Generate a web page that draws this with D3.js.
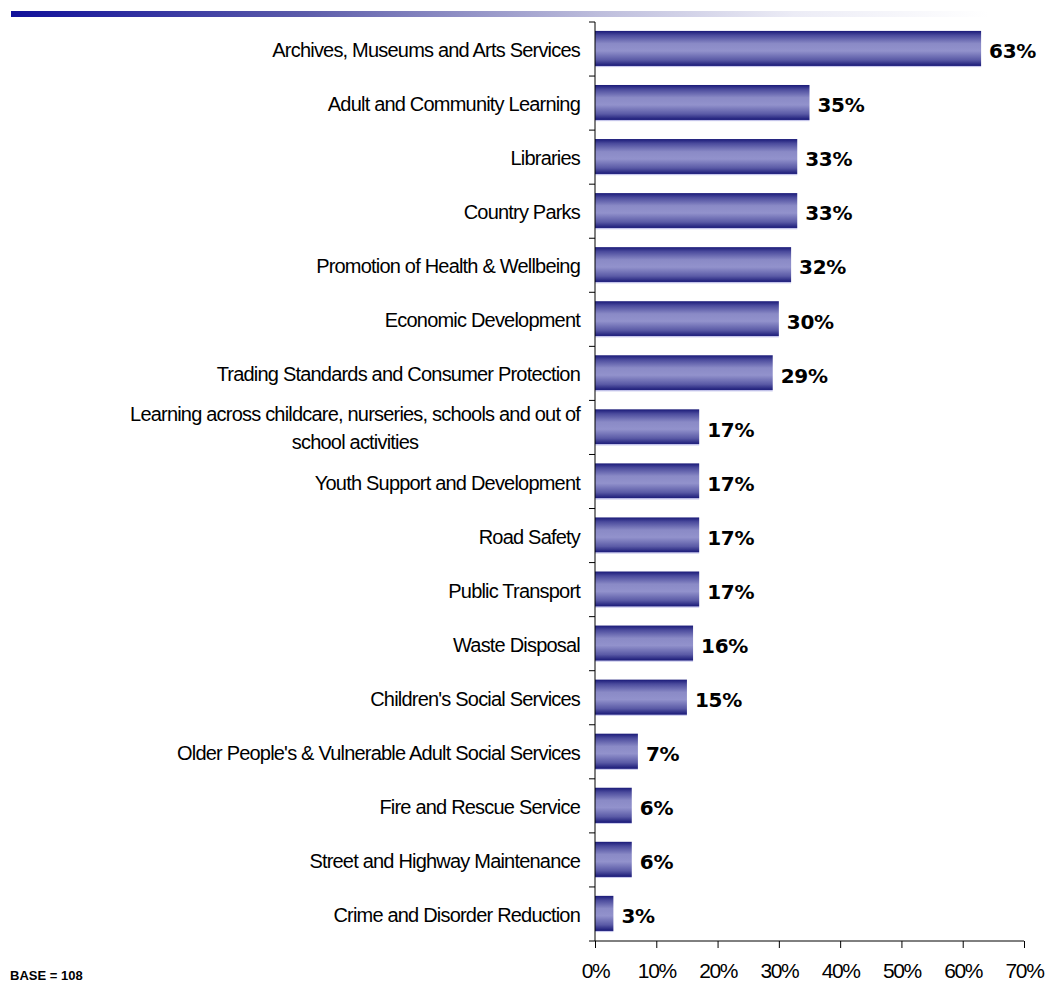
<!DOCTYPE html>
<html>
<head>
<meta charset="utf-8">
<script src="https://cdn.jsdelivr.net/npm/d3@7"></script>
<style>
  body { margin: 0; background: #fff; }
  svg { display: block; }
  .cat { font-family: "Liberation Sans", Arial, sans-serif; font-size: 20px; letter-spacing: -0.8px; fill: #000; }
  .val { font-family: "DejaVu Sans", Verdana, sans-serif; font-weight: bold; font-size: 20px; fill: #000; letter-spacing: -0.3px; }
  .tick-lbl { font-family: "Liberation Sans", Arial, sans-serif; font-size: 21px; letter-spacing: -1.4px; fill: #000; }
  .base { font-family: "Liberation Sans", Arial, sans-serif; font-weight: bold; font-size: 13px; fill: #000; }
</style>
</head>
<body>
<svg id="chart" width="1049" height="984"></svg>
<script>
// Services and the share of respondents selecting each
const categories = [
  "Archives, Museums and Arts Services",
  "Adult and Community Learning",
  "Libraries",
  "Country Parks",
  "Promotion of Health & Wellbeing",
  "Economic Development",
  "Trading Standards and Consumer Protection",
  "Learning across childcare, nurseries, schools and out of|school activities",
  "Youth Support and Development",
  "Road Safety",
  "Public Transport",
  "Waste Disposal",
  "Children's Social Services",
  "Older People's & Vulnerable Adult Social Services",
  "Fire and Rescue Service",
  "Street and Highway Maintenance",
  "Crime and Disorder Reduction"
];
const values = [63, 35, 33, 33, 32, 30, 29, 17, 17, 17, 17, 16, 15, 7, 6, 6, 3];
const xTicks = [0, 10, 20, 30, 40, 50, 60, 70];
const baseNote = "BASE = 108";

const svg = d3.select("#chart");
const defs = svg.append("defs");

// Header strip fading from navy to white
const hdr = defs.append("linearGradient").attr("id", "hdr").attr("x1", 0).attr("x2", 1).attr("y1", 0).attr("y2", 0);
hdr.append("stop").attr("offset", "0%").attr("stop-color", "#10109a");
hdr.append("stop").attr("offset", "30%").attr("stop-color", "#5c5caa");
hdr.append("stop").attr("offset", "60%").attr("stop-color", "#bdbddc");
hdr.append("stop").attr("offset", "80%").attr("stop-color", "#ececf6");
hdr.append("stop").attr("offset", "100%").attr("stop-color", "#ffffff");
svg.append("rect").attr("x", 11).attr("y", 11).attr("width", 978).attr("height", 6).attr("fill", "url(#hdr)");

// Cylinder-style bar shading
const bar = defs.append("linearGradient").attr("id", "bar").attr("x1", 0).attr("x2", 0).attr("y1", 0).attr("y2", 1);
[["0%", "#1a1a78"], ["12%", "#4a4a9c"], ["35%", "#8a8ac6"], ["55%", "#9292cc"], ["80%", "#5a5aa6"], ["94%", "#23237e"], ["96%", "#2a2a84"], ["97%", "#c0c0e8"], ["100%", "#d0d0ee"]]
  .forEach(([o, c]) => bar.append("stop").attr("offset", o).attr("stop-color", c));

const x0 = 595, x1 = 1024, yTop = 22, yBot = 941;
const x = d3.scaleLinear().domain([0, 70]).range([x0, x1]);
const y = d3.scaleBand().domain(categories).range([yTop, yBot]).paddingInner(0.33).paddingOuter(0.165);

// Bars
svg.append("g").selectAll("rect").data(categories).join("rect")
  .attr("x", x(0))
  .attr("y", d => y(d))
  .attr("width", (d, i) => x(values[i]) - x(0))
  .attr("height", y.bandwidth())
  .attr("fill", "url(#bar)");

// Value labels
svg.append("g").selectAll("text").data(categories).join("text")
  .attr("class", "val")
  .attr("x", (d, i) => x(values[i]) + 8)
  .attr("y", d => y(d) + y.bandwidth() / 2 + 2)
  .attr("dy", "0.36em")
  .text((d, i) => values[i] + "%");

// Category axis: band boundary ticks on the left side
const band = (yBot - yTop) / categories.length;
const yAxisG = svg.append("g");
yAxisG.append("line").attr("x1", x0).attr("x2", x0).attr("y1", yTop).attr("y2", yBot).attr("stroke", "#000");
yAxisG.selectAll("line.t").data(d3.range(categories.length + 1)).join("line")
  .attr("class", "t")
  .attr("x1", x0 - 6).attr("x2", x0)
  .attr("y1", i => yTop + i * band).attr("y2", i => yTop + i * band)
  .attr("stroke", "#000");

// Category labels (right aligned; wrapped labels centred on their widest line)
const labG = svg.append("g");
categories.forEach(c => {
  const lines = c.split("|");
  const cy = y(c) + y.bandwidth() / 2 + 1;
  const t = labG.append("text").attr("class", "cat");
  if (lines.length === 1) {
    t.attr("x", 580).attr("y", cy).attr("dy", "0.35em").attr("text-anchor", "end").text(lines[0]);
  } else {
    const lh = 28;
    lines.forEach((ln, k) => {
      t.append("tspan").attr("x", 0).attr("y", cy + (k - (lines.length - 1) / 2) * lh).attr("dy", "0.35em").text(ln);
    });
    const w = d3.max(t.selectAll("tspan").nodes(), n => n.getComputedTextLength());
    t.attr("text-anchor", "middle").selectAll("tspan").attr("x", 580 - w / 2);
  }
});

// Value axis
const xAxis = d3.axisBottom(x).tickValues(xTicks).tickSize(7).tickFormat(d => d + "%");
const xg = svg.append("g").attr("transform", `translate(0,${yBot})`).call(xAxis);
xg.select(".domain").attr("d", `M${x0},0H${x1}`);
xg.selectAll(".tick line").attr("stroke", "#000");
xg.selectAll(".tick text").attr("class", "tick-lbl").attr("y", 30).attr("dy", "0.35em").attr("font-family", null).attr("font-size", null);
xg.attr("font-family", null).attr("font-size", null);

// Base note in the lower-left corner
svg.append("text").attr("class", "base").attr("x", 10).attr("y", 980).text(baseNote);
</script>
</body>
</html>
